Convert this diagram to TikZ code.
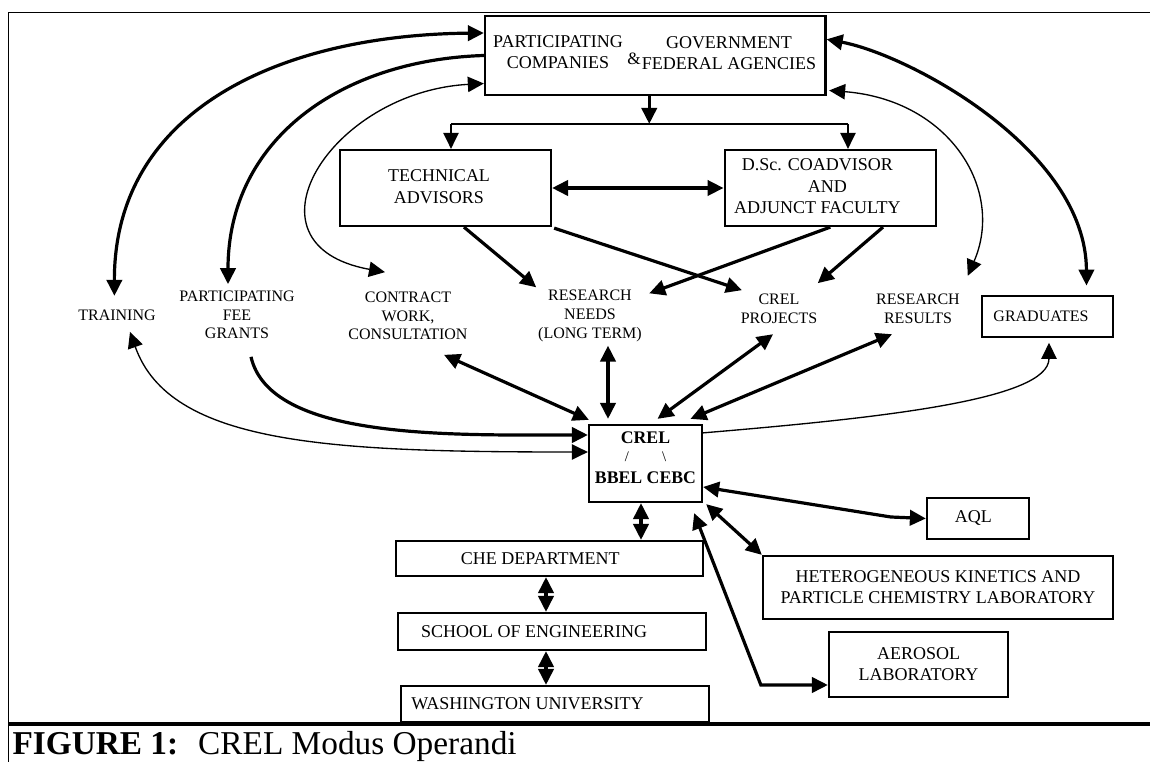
\documentclass[tikz,border=0pt]{standalone}
\usepackage{fontspec}
\setmainfont{Liberation Serif}
\usetikzlibrary{arrows.meta}

\tikzset{every picture/.style={line width=0.75pt}}
\tikzset{
	box/.style={draw, line width=1.7pt, inner sep=0pt},
	lbl/.style={inner sep=0pt, align=center, font=\fontsize{12}{14}\selectfont},
	heavy/.style={line width=2.4pt},
	light/.style={line width=1pt},
}
\newcommand{\boxfont}{\fontsize{13.5}{16.5}\selectfont}

\begin{document}
\begin{tikzpicture}[x=0.75pt,y=0.75pt,yscale=-1,xscale=1, >={Triangle[length=12pt,width=11.5pt]}]
	\useasboundingbox (0,0) rectangle (1150,762);

	%Straight Lines: frame
	\draw [line width=1.2pt] (8.5,762) -- (8.5,12.5) -- (1150,12.5) ;
	\draw [line width=2.5pt] (8.5,724) -- (1150,724) ;

	%Shape: Rectangle
	\node [box, minimum width=255.4pt, minimum height=59.25pt] (agencies) at (655.25,55.5) {};
	% Text Node
	\node [font=\fontsize{13.5}{15.75}\selectfont, align=center] (companies) at (558,52.5) {PARTICIPATING\\COMPANIES};
	% Text Node
	\node [font=\fontsize{13}{15.75}\selectfont] (amp) at (634,59) {\&};
	% Text Node
	\node [font=\fontsize{13.5}{15.75}\selectfont, align=center] (federal) at (729,53.5) {GOVERNMENT\\FEDERAL AGENCIES};

	%Shape: Rectangle
	\node [box, minimum width=158.25pt, minimum height=57pt, font=\boxfont] (tech) at (445.5,188) {\begin{tabular}{@{}c@{}}TECHNICAL\\ADVISORS\end{tabular}\hspace{9.75pt}\mbox{}};
	%Shape: Rectangle
	\node [box, minimum width=158.5pt, minimum height=57pt, font=\fontsize{13.5}{16}\selectfont] (dsc) at (830.3,188) {\begin{tabular}{@{}c@{}}D.Sc. COADVISOR\\\hspace{15pt}AND\\ADJUNCT FACULTY\end{tabular}\hspace{19.5pt}\mbox{}};
	%Shape: Rectangle
	\node [box, minimum width=98.25pt, minimum height=30.75pt, font=\fontsize{12}{14}\selectfont] (graduates) at (1047.5,316.5) {GRADUATES\hspace{9.75pt}\mbox{}};
	%Shape: Rectangle
	\node [box, align=center, minimum width=84.75pt, minimum height=57.75pt, font=\fontsize{13.3}{17}\selectfont\bfseries] (crel) at (645.5,463.5) {CREL\\[-3.5pt]{\mdseries\fontsize{11}{13}\selectfont /\hspace{25pt}\textbackslash}\\BBEL CEBC\rule[-9pt]{0pt}{9pt}};
	%Shape: Rectangle
	\node [box, minimum width=230.25pt, minimum height=26.25pt, font=\boxfont] (che) at (549.5,558.5) {CHE DEPARTMENT\hspace{13.8pt}\mbox{}};
	%Shape: Rectangle
	\node [box, minimum width=231pt, minimum height=27.75pt, font=\boxfont] (school) at (552,631.5) {SCHOOL OF ENGINEERING\hspace{26.7pt}\mbox{}};
	%Shape: Rectangle
	\node [box, minimum width=231pt, minimum height=27pt, font=\boxfont] (wu) at (555,704) {WASHINGTON UNIVERSITY\hspace{41.25pt}\mbox{}};
	%Shape: Rectangle
	\node [box, minimum width=76.5pt, minimum height=30.75pt, font=\boxfont] (aql) at (978,518.5) {AQL\hspace{7pt}\mbox{}};
	%Shape: Rectangle
	\node [box, align=center, minimum width=262.5pt, minimum height=47.25pt, font=\fontsize{13.5}{15.75}\selectfont] (het) at (938,587.5) {HETEROGENEOUS KINETICS AND\\PARTICLE CHEMISTRY LABORATORY};
	%Shape: Rectangle
	\node [box, align=center, minimum width=134.25pt, minimum height=48.75pt, font=\fontsize{13.5}{15.75}\selectfont] (aerosol) at (918.5,664.5) {AEROSOL\\LABORATORY};

	% Text Node
	\node [lbl] (training) at (117,315) {TRAINING};
	% Text Node
	\node [lbl] (grants) at (237,315) {PARTICIPATING\\FEE\\GRANTS};
	% Text Node
	\node [lbl] (contract) at (408,316) {CONTRACT\\WORK,\\CONSULTATION};
	% Text Node
	\node [lbl] (needs) at (590,316) {RESEARCH\\NEEDS\\(LONG TERM)};
	% Text Node
	\node [lbl] (projects) at (779,309) {CREL\\PROJECTS};
	% Text Node
	\node [lbl] (results) at (918,309) {RESEARCH\\RESULTS};

	%Straight Lines: split to the advisors
	\coordinate (splitL) at ([shift={(5.5,-25)}]tech.north);
	\coordinate (splitR) at ([shift={(17.7,-25)}]dsc.north);
	\draw [heavy, ->] ([shift={(-6,0)}]agencies.south) -- ([shift={(-6,0)}]agencies.south |- splitL) ;
	\draw [light] (splitL) -- (splitR) ;
	\draw [light, ->] (splitL) -- (splitL |- tech.north) ;
	\draw [light, ->] (splitR) -- (splitR |- dsc.north) ;
	\draw [heavy, <->] (tech) -- (dsc) ;

	%Curve Lines: top box to the outputs
	\draw [heavy, <->] ([shift={(0,-22.5)}]agencies.west) .. controls (280,35) and (114,110) .. ([shift={(-2.6,-13.3)}]training.north) ;
	\draw [heavy, ->] (agencies.west) .. controls (340,60) and (228,140) .. ([shift={(-9,-6.3)}]grants.north) ;
	\draw [light, <->] ([shift={(0,28)}]agencies.west) .. controls (330,92) and (235,245) .. ([shift={(-23,-19.3)}]contract.north) ;
	\draw [heavy, <->] ([shift={(0,-16.2)}]agencies.east) .. controls (910,55) and (1086,150) .. ([shift={(39,-9.3)}]graduates.north) ;
	\draw [light, <->] ([shift={(2.5,-5.7)}]agencies.south east) .. controls (950,100) and (1005,190) .. ([shift={(7.5,-18)}]results.north east) ;

	%Straight Lines: advisors to needs and projects
	\draw [heavy, ->] ([shift={(18.5,0)}]tech.south) -- ([shift={(-1.5,-2.5)}]needs.north west) ;
	\draw [heavy, ->] ([shift={(2,1)}]tech.south east) -- ([shift={(1.7,-3.6)}]projects.north west) ;
	\draw [heavy, ->] (dsc.south) -- ([shift={(7,3.5)}]needs.north east) ;
	\draw [heavy, ->] ([shift={(52.7,0)}]dsc.south) -- ([shift={(0,-10.6)}]projects.north east) ;

	%Straight Lines: outputs to CREL
	\draw [heavy, <->] ([shift={(36,14.3)}]contract.south) -- ([shift={(1,-4)}]crel.north west) ;
	\draw [heavy, <->] ([shift={(18,3.5)}]needs.south) -- ([shift={(-37.5,-5)}]crel.north) ;
	\draw [heavy, <->] ([shift={(-6,10)}]projects.south) -- ([shift={(12,-5)}]crel.north) ;
	\draw [heavy, <->] ([shift={(-26,10)}]results.south) -- ([shift={(45,-5)}]crel.north) ;

	%Curve Lines: CREL to the sides
	\draw [light, ->] ([shift={(0,9)}]crel.north east) .. controls (880,418) and (1049,400) .. ([shift={(1.5,4.7)}]graduates.south) ;
	\draw [heavy, ->] ([shift={(14,17.3)}]grants.south) .. controls (270,440) and (450,435) .. ([shift={(0,-28.5)}]crel.west) ;
	\draw [light, <->] ([shift={(13,11)}]training.south) .. controls (170,445) and (330,452) .. ([shift={(0,-11.5)}]crel.west) ;

	%Straight Lines: CREL to the laboratories
	\draw [heavy, <->] ([shift={(0,23.5)}]crel.east) -- ([shift={(-35,-1.5)}]aql.west) -- (aql.west) ;
	\draw [heavy, <->] ([shift={(3,1)}]crel.south east) -- (het.north west) ;
	\draw [heavy, <->] ([shift={(-9,10)}]crel.south east) -- ([shift={(-67,20.5)}]aerosol.west) -- ([shift={(0,20.5)}]aerosol.west) ;

	%Straight Lines: CREL down to the university
	\draw [heavy, <->] ([shift={(-4.5,0)}]crel.south) -- ([shift={(-4.5,0)}]crel.south |- che.north) ;
	\draw [heavy, <->] ([shift={(-3.5,0)}]che.south) -- ([shift={(-3.5,0)}]che.south |- school.north) ;
	\draw [heavy, <->] ([shift={(-6,0)}]school.south) -- ([shift={(-6,0)}]school.south |- wu.north) ;

	% Text Node
	\node [anchor=base west, inner sep=0pt, font=\fontsize{25}{30}\selectfont] (caption) at (12,754) {\textbf{FIGURE 1:}\hspace{15pt}CREL Modus Operandi};

\end{tikzpicture}
\end{document}
